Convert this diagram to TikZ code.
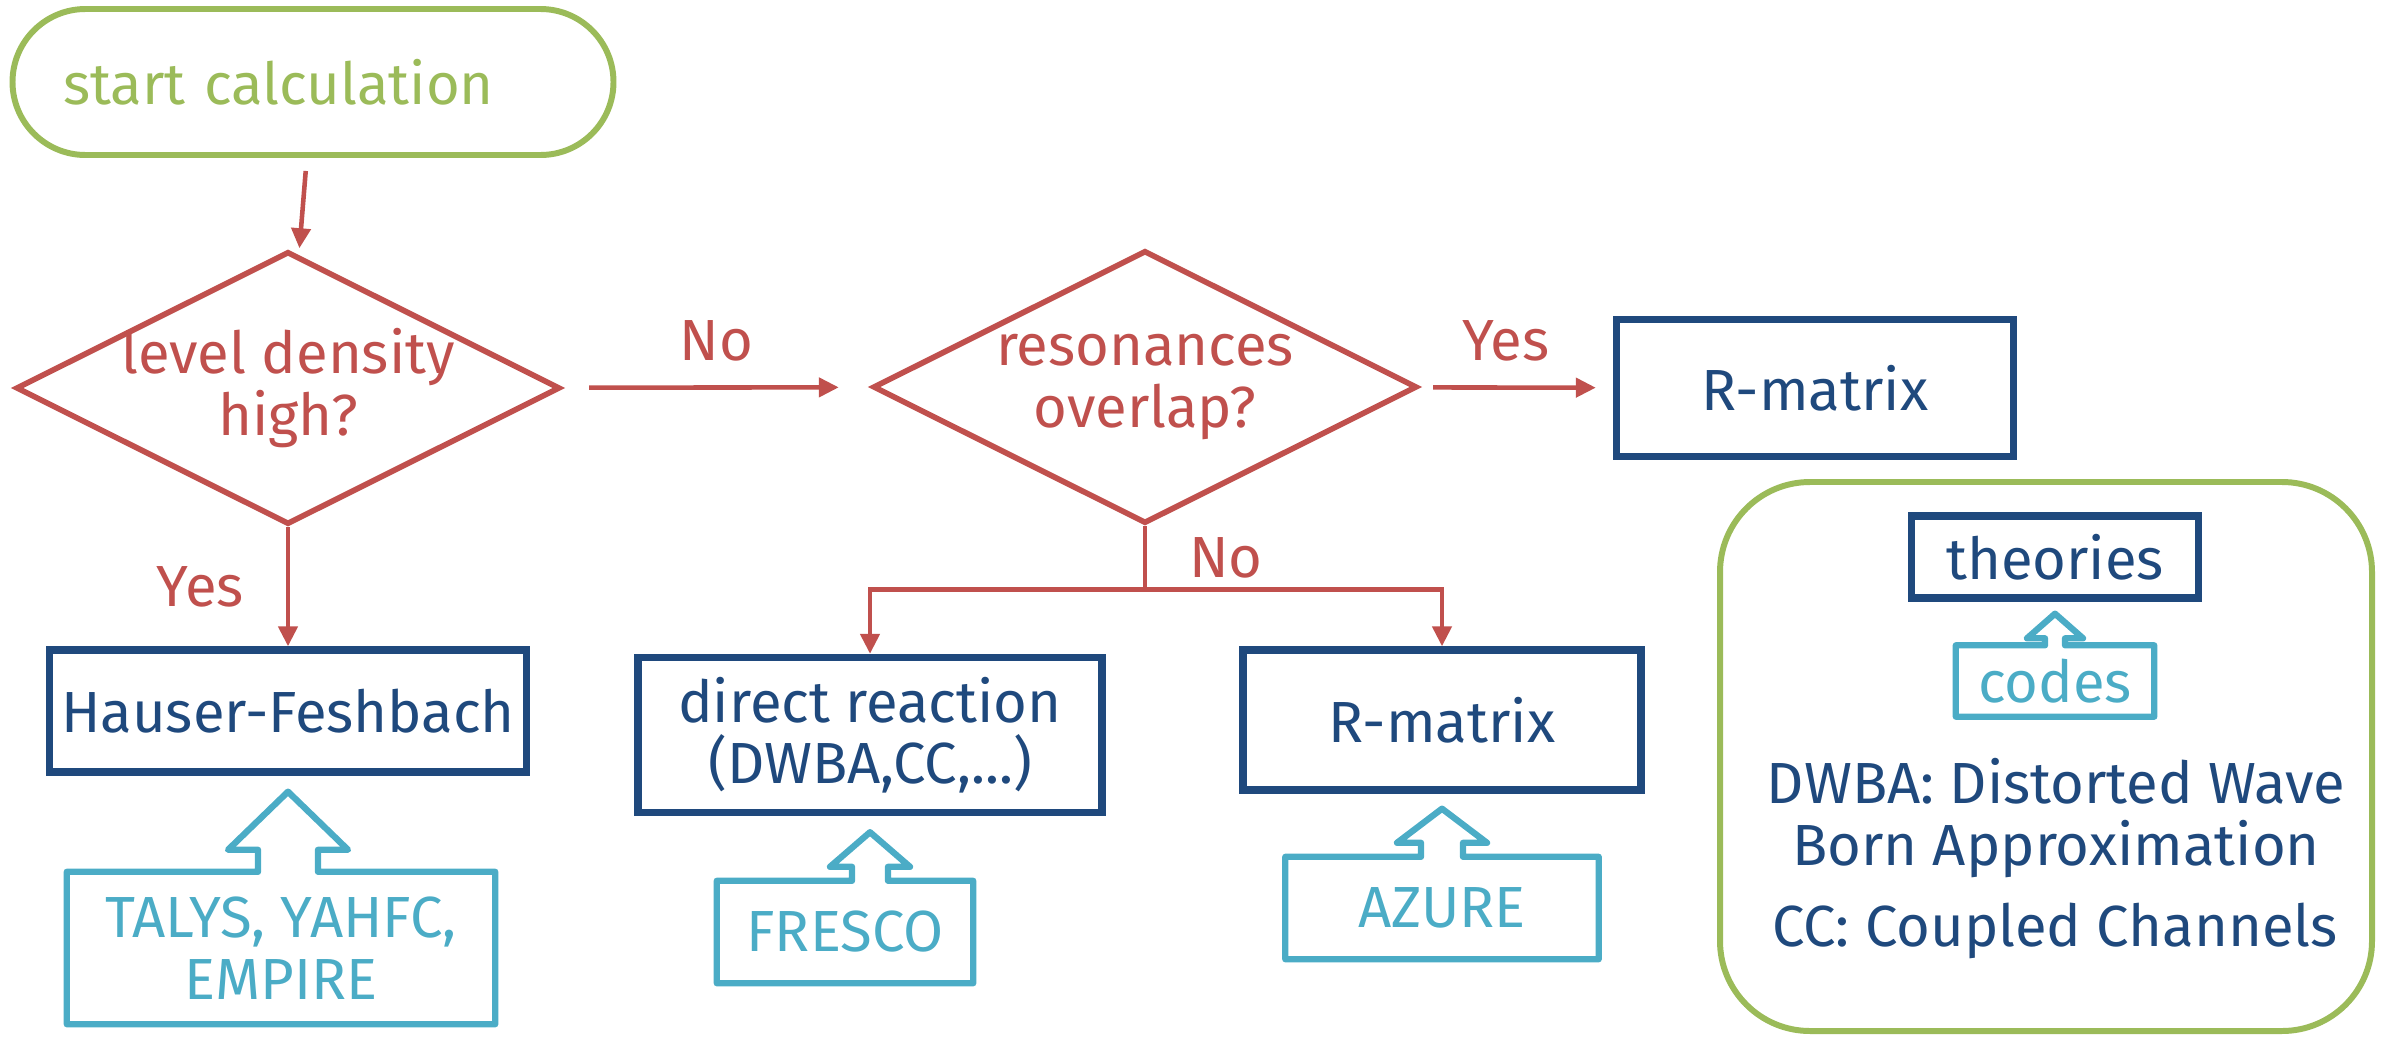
\documentclass[tikz,border=0pt]{standalone}
\usepackage{fontspec}
\setmainfont{Fira Sans}
\usetikzlibrary{shapes.geometric,arrows.meta,calc}

\definecolor{startgreen}{RGB}{155,187,89}
\definecolor{decred}{RGB}{192,80,77}
\definecolor{theoblue}{RGB}{31,73,125}
\definecolor{codeblue}{RGB}{75,172,198}

% code box with a block arrow pointing up to its theory
% #1 code node, #2 theory node, #3 shaft half width, #4 head half width, #5 shaft length, #6 gap
\newcommand{\codearrow}[6]{%
  \draw[codebox] let \p1=(#2.south), \p2=(#1.north) in
    (#1.north west) -- (\x1-#3,\y2) -- (\x1-#3,\y2+#5) -- (\x1-#4,\y2+#5)
    -- (\x1,\y1-#6) -- (\x1+#4,\y2+#5) -- (\x1+#3,\y2+#5) -- (\x1+#3,\y2)
    -- (#1.north east) -- (#1.south east) -- (#1.south west) -- cycle;}

\begin{document}
\begin{tikzpicture}[
  every node/.style={font=\fontsize{16.5}{17.5}\selectfont},
  startbox/.style={draw=startgreen, line width=1.7pt, rounded corners=0.73cm, text=startgreen},
  decision/.style={diamond, aspect=1.99, draw=decred, line width=1.6pt, text=decred, align=center, inner xsep=-0.1cm, inner ysep=-0.05cm, minimum width=5.44cm, minimum height=2.73cm},
  theory/.style={draw=theoblue, line width=2.1pt, text=theoblue, align=center},
  code/.style={text=codeblue, align=center},
  codebox/.style={draw=codeblue, line width=1.8pt, line join=round},
  flow/.style={draw=decred, line width=1.3pt, -{Triangle[length=0.2cm,width=0.19cm]}},
  flowlabel/.style={text=decred},
  legendbox/.style={draw=startgreen, line width=1.7pt, rounded corners=0.9cm}
]
\useasboundingbox (0,0) rectangle (23.84,-10.36);

% flow chart
\node[startbox, minimum width=6.01cm, minimum height=1.46cm, text width=5.0cm, align=left] (start) at (3.13,-0.82) {start calculation};
\node[decision] (dens) at (2.88,-3.88) {level density\\high?};
\node[decision] (reso) at (11.45,-3.87) {resonances\\overlap?};
\node[theory, minimum width=3.97cm, minimum height=1.37cm] (rmatA) at (18.15,-3.88) {R-matrix};
\node[theory, minimum width=4.63cm, minimum height=1.22cm] (hf) at (2.88,-7.11) {Hauser-Feshbach};
\node[theory, minimum width=4.64cm, minimum height=1.55cm] (direct) at (8.70,-7.35) {direct reaction\\(DWBA,CC,...)};
\node[theory, minimum width=3.98cm, minimum height=1.40cm] (rmatB) at (14.42,-7.20) {R-matrix};

\draw[flow, shorten <=0.13cm, shorten >=0.06cm] (start) -- (dens);
\draw[flow, shorten <=0.27cm, shorten >=0.32cm] (dens) -- node[flowlabel, above=0.12cm] {No} (reso);
\draw[flow, shorten <=0.14cm, shorten >=0.17cm] (reso) -- node[flowlabel, above=0.12cm, xshift=-0.1cm] {Yes} (rmatA);
\draw[flow] (dens.south) -- node[flowlabel, left=0.3cm] {Yes} (hf.north);
\coordinate (split) at ($(reso.south)+(0,-0.63)$);
\draw[flow] (reso.south) -- node[flowlabel, right=0.3cm] {No} (split) -| (direct.north);
\draw[flow] (split) -| (rmatB.north);

% codes
\node[code, minimum width=4.27cm, minimum height=1.51cm] (talys) at (2.81,-9.48) {TALYS, YAHFC,\\EMPIRE};
\node[code, minimum width=2.55cm, minimum height=1.01cm] (fresco) at (8.45,-9.32) {FRESCO};
\node[code, minimum width=3.12cm, minimum height=1.01cm] (azure) at (14.42,-9.08) {AZURE};
\codearrow{talys}{hf}{0.30cm}{0.60cm}{0.22cm}{0.16cm}
\codearrow{fresco}{direct}{0.18cm}{0.40cm}{0.14cm}{0.16cm}
\codearrow{azure}{rmatB}{0.21cm}{0.45cm}{0.14cm}{0.15cm}

% legend
\node[legendbox, minimum width=6.52cm, minimum height=5.49cm] (legend) at (20.46,-7.565) {};
\node[theory, minimum width=2.87cm, minimum height=0.82cm] (theo) at (20.55,-5.57) {theories};
\node[code, minimum width=1.97cm, minimum height=0.70cm] (codes) at (20.55,-6.81) {codes};
\codearrow{codes}{theo}{0.10cm}{0.28cm}{0.07cm}{0.12cm}
\node[text=theoblue, align=center] (dwba) at (20.56,-8.18) {DWBA: Distorted Wave\\Born Approximation};
\node[text=theoblue] (cc) at (20.55,-9.31) {CC: Coupled Channels};
\end{tikzpicture}
\end{document}
